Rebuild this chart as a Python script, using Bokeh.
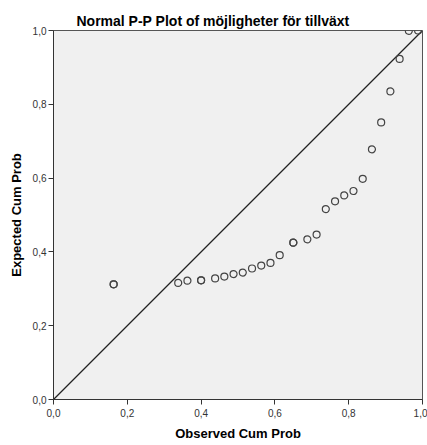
from bokeh.plotting import figure
from bokeh.models import Range1d, FixedTicker
from bokeh.embed import file_html
from bokeh.resources import INLINE

# Observed cumulative probability (x) and expected cumulative probability (y)
observed = [0.163, 0.163, 0.338, 0.363, 0.400, 0.400, 0.438, 0.463, 0.488, 0.513,
            0.538, 0.563, 0.588, 0.613, 0.650, 0.650, 0.688, 0.713, 0.738, 0.763,
            0.788, 0.813, 0.838, 0.863, 0.888, 0.913, 0.938, 0.963, 0.988]
expected = [0.312, 0.312, 0.316, 0.322, 0.323, 0.323, 0.328, 0.333, 0.340, 0.344,
            0.355, 0.363, 0.370, 0.391, 0.425, 0.425, 0.434, 0.447, 0.516, 0.537,
            0.553, 0.565, 0.598, 0.678, 0.751, 0.835, 0.923, 0.999, 1.000]
ref_x = [0.0, 1.0]
ref_y = [0.0, 1.0]
ticks = [0.0, 0.2, 0.4, 0.6, 0.8, 1.0]
tick_labels = ["0,0", "0,2", "0,4", "0,6", "0,8", "1,0"]

p = figure(width=427, height=445, output_backend="svg", toolbar_location=None,
           x_range=Range1d(0, 1), y_range=Range1d(0, 1),
           frame_width=369, frame_height=369,
           min_border_left=53, min_border_right=5, min_border_top=30, min_border_bottom=46)
p.background_fill_color = "#f0f0f0"
p.border_fill_color = "white"
p.outline_line_color = "#555555"
p.grid.visible = False

p.title.text = "Normal P-P Plot of möjligheter för tillväxt"
p.title.align = "left"
p.title.text_font = "Liberation Sans"
p.title.text_font_size = "14px"
p.title.text_font_style = "bold"
p.title.text_color = "#000000"
p.title.offset = 23
p.title.standoff = 3

for ax, lab in ((p.xaxis[0], "Observed Cum Prob"), (p.yaxis[0], "Expected Cum Prob")):
    ax.ticker = FixedTicker(ticks=ticks)
    ax.major_label_overrides = {t: l for t, l in zip(ticks, tick_labels)}
    ax.minor_tick_line_color = None
    ax.major_tick_in = 0
    ax.major_tick_out = 5
    ax.major_tick_line_color = "#333333"
    ax.axis_line_color = "#333333"
    ax.major_label_text_font = "Liberation Sans"
    ax.major_label_text_font_size = "10px"
    ax.major_label_text_color = "#333333"
    ax.axis_label = lab
    ax.axis_label_text_font = "Liberation Sans"
    ax.axis_label_text_font_size = "13px"
    ax.axis_label_text_font_style = "bold"
    ax.axis_label_text_color = "#000000"

p.xaxis[0].major_label_standoff = 4
p.yaxis[0].major_label_standoff = 2
p.xaxis[0].axis_label_standoff = 6
p.yaxis[0].axis_label_standoff = 6

p.line(ref_x, ref_y, line_color="#222222", line_width=1.2)
p.scatter(observed, expected, marker="circle", size=7, fill_color=None,
          line_color="#444444", line_width=1.2)

open("out.html", "w").write(file_html(p, INLINE))
